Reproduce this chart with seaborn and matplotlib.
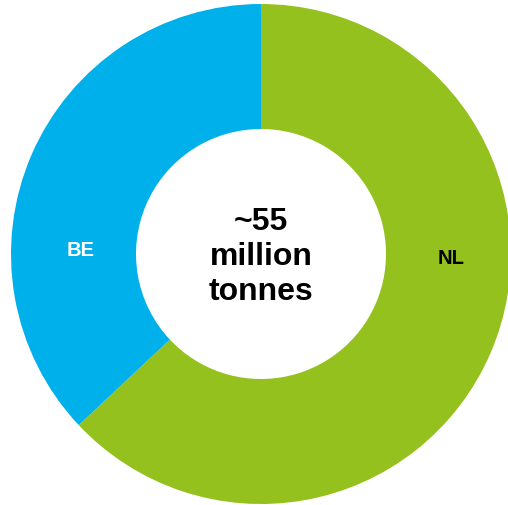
import matplotlib
matplotlib.use("Agg")
import matplotlib.pyplot as plt
import seaborn as sns

# ==========================================
# Data
# ==========================================
countries = ["NL", "BE"]
shares = [63.0, 37.0]          # share of total volume (%)
colors = ["#95C11F", "#00B0EA"]
label_colors = ["black", "white"]
center_text = "~55\nmillion\ntonnes"

# ==========================================
# Plot
# ==========================================
sns.set_theme(style="white")
plt.rcParams["font.family"] = ["Liberation Sans", "DejaVu Sans"]

fig = plt.figure(figsize=(5.08, 5.06), dpi=100)
ax = fig.add_axes([0, 0, 1, 1])

cx, cy, R = 261, 251, 250
wedges, _ = ax.pie(
    shares,
    colors=sns.color_palette(colors),
    startangle=90,
    counterclock=False,
    center=(cx, cy),
    radius=R,
    wedgeprops=dict(width=R * 0.5, linewidth=0),
)

# labels sit on the horizontal through the centre
ax.text(cx + 0.76 * R, cy - 3, countries[0], ha="center", va="center",
        fontsize=14.5, fontweight="bold", color=label_colors[0])
ax.text(cx - 0.72 * R, cy + 5, countries[1], ha="center", va="center",
        fontsize=14.5, fontweight="bold", color=label_colors[1])

ax.text(cx, cy - 2, center_text, ha="center", va="center",
        fontsize=23, fontweight="bold", color="black", linespacing=1.22)

ax.set_xlim(0, 508)
ax.set_ylim(0, 506)
ax.set_aspect("equal")
ax.axis("off")

fig.savefig("out.png", dpi=100, facecolor="white")
